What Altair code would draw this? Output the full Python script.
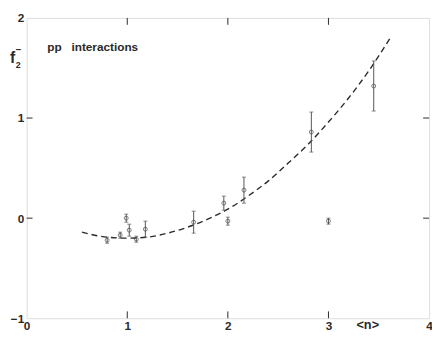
import altair as alt
import pandas as pd

# measured points
pt_n = [0.80, 0.93, 1.02, 1.09, 1.18, 0.99, 1.66, 1.96, 2.00, 2.16, 2.83, 3.00, 3.45]
pt_f = [-0.22, -0.17, -0.12, -0.21, -0.11, 0.00, -0.04, 0.15, -0.03, 0.28, 0.86, -0.03, 1.32]
pt_err = [0.03, 0.03, 0.06, 0.03, 0.08, 0.04, 0.11, 0.07, 0.04, 0.13, 0.20, 0.03, 0.25]

# dashed fit curve
cv_n = [0.55, 0.8, 1.0, 1.2, 1.4, 1.6, 1.8, 2.0, 2.2, 2.4, 2.6, 2.8, 3.0, 3.2, 3.4, 3.62]
cv_f = [-0.14, -0.19, -0.20, -0.19, -0.15, -0.09, -0.01, 0.09, 0.22, 0.37, 0.55, 0.74, 0.96, 1.20, 1.47, 1.81]

x_ticks = [0, 1, 2, 3, 4]
y_ticks = [-1, 0, 1, 2]
inner_x_ticks = [1, 2, 3]
inner_y_ticks = [0, 1]

INK = "#2a2a2a"
W, H = 410, 306

pts = pd.DataFrame({"n": pt_n, "f": pt_f, "err": pt_err})
pts["lo"] = pts["f"] - pts["err"]
pts["hi"] = pts["f"] + pts["err"]
curve = pd.DataFrame({"n": cv_n, "f": cv_f})

xs = alt.Scale(domain=[0, 4], nice=False, zero=False)
ys = alt.Scale(domain=[-1, 2], nice=False, zero=False)

xaxis = alt.Axis(values=x_ticks, format="d", title=None, ticks=False, domain=False, grid=False,
                 labelFont="Liberation Sans", labelFontWeight="bold", labelFontSize=12,
                 labelColor=INK, labelPadding=2, labelFlush=False)
yaxis = alt.Axis(values=y_ticks, format="d", title=None, ticks=False, domain=False, grid=False,
                 labelFont="Liberation Sans", labelFontWeight="bold", labelFontSize=12,
                 labelColor=INK, labelPadding=3, labelFlush=False)

line = alt.Chart(curve).mark_line(color=INK, strokeDash=[6, 4], strokeWidth=1.4, interpolate="monotone").encode(
    x=alt.X("n:Q", scale=xs, axis=xaxis),
    y=alt.Y("f:Q", scale=ys, axis=yaxis),
)

bars = alt.Chart(pts).mark_rule(color="#555555", strokeWidth=1).encode(
    x=alt.X("n:Q", scale=xs), y=alt.Y("lo:Q", scale=ys), y2="hi:Q"
)
caps_hi = alt.Chart(pts).mark_tick(color="#555555", orient="horizontal", size=4, thickness=1).encode(
    x=alt.X("n:Q", scale=xs), y=alt.Y("hi:Q", scale=ys)
)
caps_lo = alt.Chart(pts).mark_tick(color="#555555", orient="horizontal", size=4, thickness=1).encode(
    x=alt.X("n:Q", scale=xs), y=alt.Y("lo:Q", scale=ys)
)
dots = alt.Chart(pts).mark_point(color="#444444", shape="circle", size=16, strokeWidth=1, filled=False).encode(
    x=alt.X("n:Q", scale=xs), y=alt.Y("f:Q", scale=ys)
)

# inward tick marks on all four sides
xt = pd.DataFrame({"t": inner_x_ticks})
yt = pd.DataFrame({"t": inner_y_ticks})
tick_b = alt.Chart(xt).mark_rule(color=INK, strokeWidth=1).encode(
    x=alt.X("t:Q", scale=xs), y=alt.value(H), y2=alt.value(H - 7))
tick_t = alt.Chart(xt).mark_rule(color=INK, strokeWidth=1).encode(
    x=alt.X("t:Q", scale=xs), y=alt.value(0), y2=alt.value(7))
tick_l = alt.Chart(yt).mark_rule(color=INK, strokeWidth=1).encode(
    y=alt.Y("t:Q", scale=ys), x=alt.value(0), x2=alt.value(6))
tick_r = alt.Chart(yt).mark_rule(color=INK, strokeWidth=1).encode(
    y=alt.Y("t:Q", scale=ys), x=alt.value(W), x2=alt.value(W - 6))

label = alt.Chart(pd.DataFrame({"s": ["pp\u00a0\u00a0\u00a0interactions"]})).mark_text(
    align="left", baseline="middle", font="Liberation Sans", fontWeight="bold", fontSize=12, color=INK
).encode(text="s:N", x=alt.value(21), y=alt.value(30))

f_lbl = alt.Chart(pd.DataFrame({"s": ["f"]})).mark_text(
    align="left", baseline="middle", font="Liberation Sans", fontWeight="bold", fontSize=16, color=INK
).encode(text="s:N", x=alt.value(-17), y=alt.value(41))
f_sub = alt.Chart(pd.DataFrame({"s": ["2"]})).mark_text(
    align="left", baseline="middle", font="Liberation Sans", fontWeight="bold", fontSize=9, color=INK
).encode(text="s:N", x=alt.value(-11), y=alt.value(48))
f_sup = alt.Chart(pd.DataFrame({"s": ["\u2212"]})).mark_text(
    align="left", baseline="middle", font="Liberation Sans", fontWeight="bold", fontSize=10, color=INK
).encode(text="s:N", x=alt.value(-11), y=alt.value(33))

n_lbl = alt.Chart(pd.DataFrame({"s": ["<n>"]})).mark_text(
    align="left", baseline="middle", font="Liberation Sans", fontWeight="bold", fontSize=13, color=INK
).encode(text="s:N", x=alt.value(336), y=alt.value(H + 7))

chart = alt.layer(
    line, bars, caps_hi, caps_lo, dots, tick_b, tick_t, tick_l, tick_r, label, f_lbl, f_sub, f_sup, n_lbl
).properties(
    width=W, height=H,
    autosize=alt.AutoSizeParams(type="none"),
    padding={"left": 19, "top": 7, "right": 3, "bottom": 18},
).configure_view(
    stroke=INK, strokeWidth=1.2
).configure(background="white")

chart.save("out.html", embed_options={"renderer": "svg", "actions": False})
